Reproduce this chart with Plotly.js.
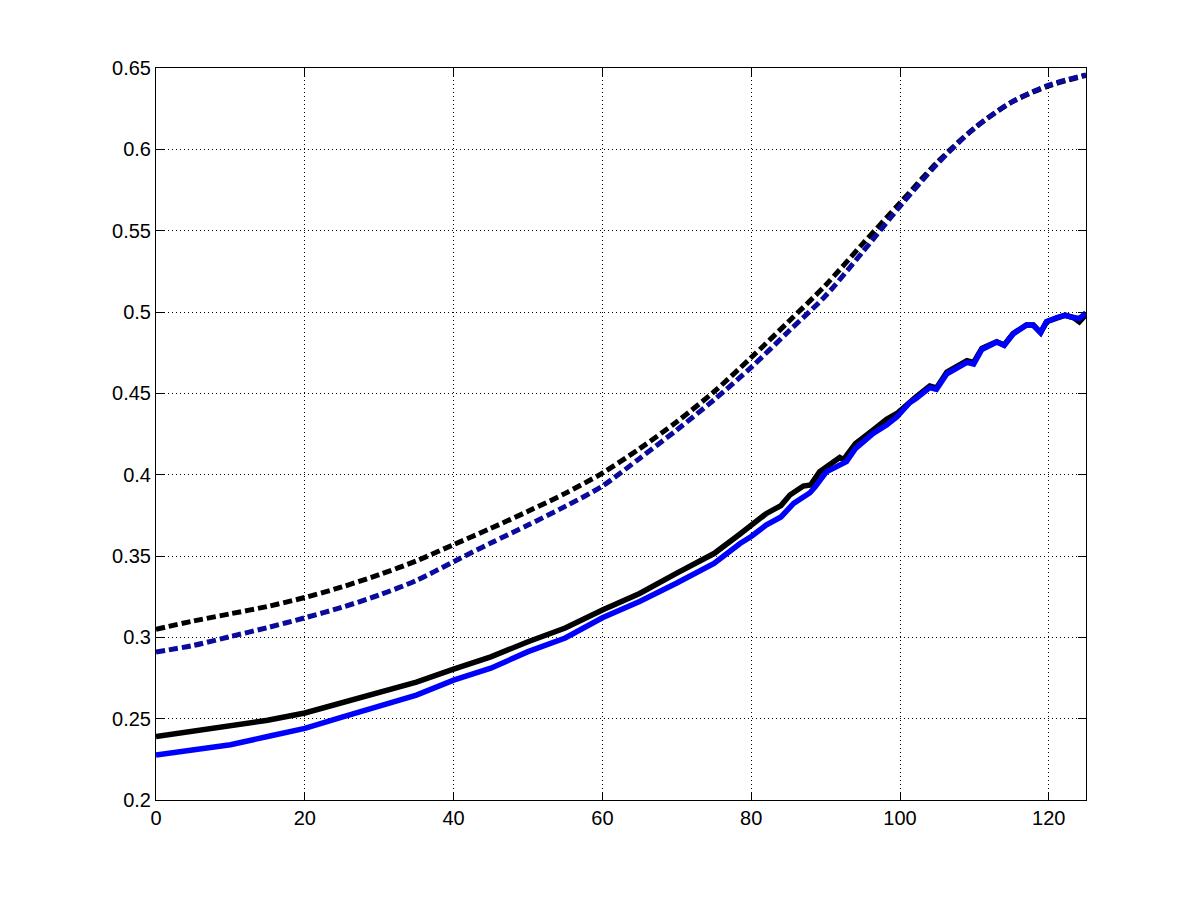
<!DOCTYPE html>
<html>
<head>
<meta charset="utf-8">
<script src="https://cdn.plot.ly/plotly-3.0.1.min.js"></script>
<style>html,body{margin:0;padding:0;background:#fff;}#chart{width:1200px;height:900px;}</style>
</head>
<body>
<div id="chart"></div>
<script>
// Upper dashed curves
const xDashed = [0,5,10,15,20,25,30,35,40,45,50,55,60,65,70,75,80,85,90,95,100,105,110,115,120,125];
const blackDashed = [0.305,0.310,0.3145,0.319,0.3245,0.331,0.3385,0.347,0.357,0.367,0.3775,0.3885,0.401,0.416,0.4325,0.451,0.472,0.494,0.5165,0.542,0.567,0.592,0.613,0.629,0.639,0.6455];
const blueDashed  = [0.291,0.295,0.3005,0.306,0.312,0.3185,0.326,0.335,0.3465,0.358,0.369,0.3805,0.393,0.410,0.4275,0.446,0.466,0.488,0.510,0.537,0.565,0.591,0.613,0.629,0.6395,0.6457];

// Lower solid curves
const xBlackSolid = [0,5,10,15,20,25,30,35,40,45,50,55,60,65,70,75,78.5,80,82,84,85.2,87,88,89.2,91.9,92.4,94,96.4,98.2,99.7,100.9,102.2,104,104.9,106.3,109,109.9,111,113,114,115.2,117,117.9,118.9,119.7,121.1,122.2,123.3,124.1,125];
const blackSolid  = [0.239,0.2425,0.2455,0.249,0.2535,0.2598,0.2662,0.2725,0.2805,0.288,0.2973,0.3057,0.3168,0.327,0.3395,0.3515,0.3635,0.369,0.376,0.381,0.3875,0.393,0.3937,0.4018,0.4105,0.4093,0.419,0.4275,0.434,0.438,0.443,0.448,0.4545,0.4533,0.463,0.470,0.469,0.4776,0.4817,0.4797,0.4868,0.492,0.492,0.4873,0.494,0.4966,0.498,0.4966,0.494,0.4985];
const xBlueSolid = [0,5,10,15,20,25,30,35,40,45,50,55,60,65,70,75,78.5,80,82,84,85.7,87.9,88.6,90.1,92.8,94,96.4,98.2,99.6,101.3,102.2,104,104.9,106.3,109,109.9,111,113,114,115.2,117,117.9,118.9,119.7,121.1,122.2,123.3,124.1,125];
const blueSolid  = [0.2277,0.231,0.234,0.239,0.244,0.251,0.2575,0.2645,0.2737,0.281,0.2912,0.2996,0.312,0.322,0.3334,0.3455,0.3577,0.362,0.369,0.374,0.3823,0.3889,0.3926,0.4017,0.408,0.416,0.4254,0.4305,0.4356,0.4442,0.447,0.4535,0.4525,0.462,0.469,0.468,0.477,0.4815,0.4795,0.4865,0.492,0.492,0.4873,0.494,0.4966,0.498,0.4966,0.496,0.4995];

const xTicks = [0,20,40,60,80,100,120];
const xTickText = ['0','20','40','60','80','100','120'];
const yTicks = [0.2,0.25,0.3,0.35,0.4,0.45,0.5,0.55,0.6,0.65];
const yTickText = ['0.2','0.25','0.3','0.35','0.4','0.45','0.5','0.55','0.6','0.65'];

const traces = [
  {x: xDashed, y: blackDashed, mode: 'lines', line: {color: '#000000', width: 5, dash: '9px,4px', shape: 'spline', smoothing: 0.8}, hoverinfo: 'skip'},
  {x: xDashed, y: blueDashed, mode: 'lines', line: {color: '#0a0a9c', width: 5, dash: '9px,4px', shape: 'spline', smoothing: 0.8}, hoverinfo: 'skip'},
  {x: xBlackSolid, y: blackSolid, mode: 'lines', line: {color: '#000000', width: 5.5}, hoverinfo: 'skip'},
  {x: xBlueSolid, y: blueSolid, mode: 'lines', line: {color: '#0000ff', width: 5.5}, hoverinfo: 'skip'}
];

const axisCommon = {
  showline: true, linecolor: '#000', linewidth: 1, mirror: 'ticks',
  ticks: 'inside', ticklen: 8, tickcolor: '#000', tickwidth: 1,
  showgrid: true, gridcolor: '#000', gridwidth: 1, griddash: '1px,3px',
  zeroline: false, tickfont: {family: 'Liberation Sans, Arial, sans-serif', size: 20, color: '#000'}
};

const layout = {
  width: 1200, height: 900,
  paper_bgcolor: '#fff', plot_bgcolor: '#fff',
  margin: {l: 156, r: 114, t: 68, b: 100},
  showlegend: false,
  xaxis: Object.assign({}, axisCommon, {range: [0,125], tickvals: xTicks, ticktext: xTickText}),
  yaxis: Object.assign({}, axisCommon, {range: [0.2,0.65], tickvals: yTicks, ticktext: yTickText})
};

Plotly.newPlot('chart', traces, layout, {staticPlot: true, displayModeBar: false});
</script>
</body>
</html>
